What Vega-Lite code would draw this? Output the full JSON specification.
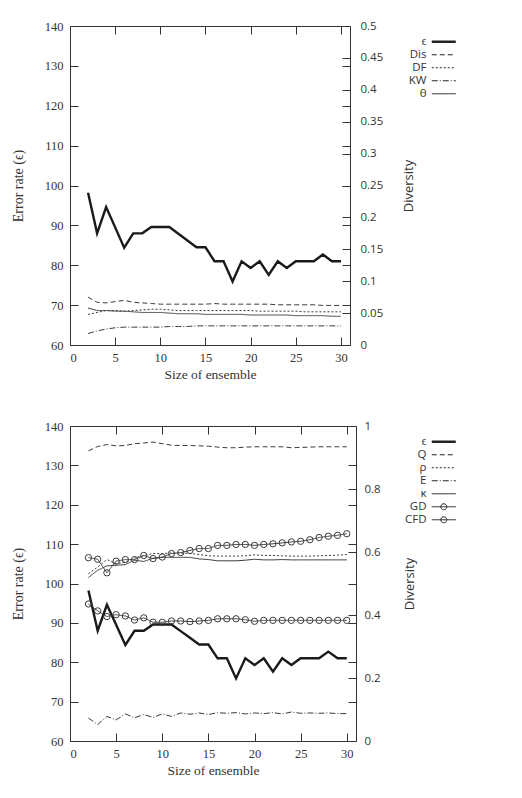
{
  "$schema": "https://vega.github.io/schema/vega-lite/v6.json",
  "padding": {"left": 10, "top": 19, "right": 5, "bottom": 5},
  "background": "white",
  "config": {
    "view": {"stroke": "#333", "strokeWidth": 1},
    "axis": {"domain": false, "grid": false, "tickColor": "#333", "labelColor": "#333", "titleColor": "#333", "titleFontWeight": "normal", "tickSize": -8}
  },
  "datasets": {
    "eps": [
      {"n":2,"v":98.2},{"n":3,"v":88},{"n":4,"v":94.6},{"n":5,"v":89.5},{"n":6,"v":84.4},{"n":7,"v":88},{"n":8,"v":88},{"n":9,"v":89.6},{"n":10,"v":89.6},{"n":11,"v":89.6},{"n":12,"v":87.9},{"n":13,"v":86.2},{"n":14,"v":84.5},{"n":15,"v":84.5},{"n":16,"v":81},{"n":17,"v":81},{"n":18,"v":75.9},{"n":19,"v":81},{"n":20,"v":79.3},{"n":21,"v":81},{"n":22,"v":77.6},{"n":23,"v":81},{"n":24,"v":79.3},{"n":25,"v":81},{"n":26,"v":81},{"n":27,"v":81},{"n":28,"v":82.7},{"n":29,"v":81},{"n":30,"v":81}
    ],
    "top": [
      {"s":"Dis","n":2,"v":0.075},{"s":"Dis","n":3,"v":0.067},{"s":"Dis","n":4,"v":0.066},{"s":"Dis","n":5,"v":0.068},{"s":"Dis","n":6,"v":0.07},{"s":"Dis","n":7,"v":0.067},{"s":"Dis","n":8,"v":0.066},{"s":"Dis","n":9,"v":0.065},{"s":"Dis","n":10,"v":0.064},{"s":"Dis","n":11,"v":0.064},{"s":"Dis","n":12,"v":0.064},{"s":"Dis","n":13,"v":0.064},{"s":"Dis","n":14,"v":0.064},{"s":"Dis","n":15,"v":0.064},{"s":"Dis","n":16,"v":0.065},{"s":"Dis","n":17,"v":0.064},{"s":"Dis","n":18,"v":0.064},{"s":"Dis","n":19,"v":0.064},{"s":"Dis","n":20,"v":0.064},{"s":"Dis","n":21,"v":0.064},{"s":"Dis","n":22,"v":0.064},{"s":"Dis","n":23,"v":0.063},{"s":"Dis","n":24,"v":0.063},{"s":"Dis","n":25,"v":0.063},{"s":"Dis","n":26,"v":0.063},{"s":"Dis","n":27,"v":0.063},{"s":"Dis","n":28,"v":0.062},{"s":"Dis","n":29,"v":0.062},{"s":"Dis","n":30,"v":0.062},
      {"s":"DF","n":2,"v":0.048},{"s":"DF","n":3,"v":0.051},{"s":"DF","n":4,"v":0.054},{"s":"DF","n":5,"v":0.054},{"s":"DF","n":6,"v":0.053},{"s":"DF","n":7,"v":0.054},{"s":"DF","n":8,"v":0.055},{"s":"DF","n":9,"v":0.056},{"s":"DF","n":10,"v":0.056},{"s":"DF","n":11,"v":0.055},{"s":"DF","n":12,"v":0.054},{"s":"DF","n":13,"v":0.054},{"s":"DF","n":14,"v":0.054},{"s":"DF","n":15,"v":0.054},{"s":"DF","n":16,"v":0.054},{"s":"DF","n":17,"v":0.054},{"s":"DF","n":18,"v":0.054},{"s":"DF","n":19,"v":0.054},{"s":"DF","n":20,"v":0.054},{"s":"DF","n":21,"v":0.053},{"s":"DF","n":22,"v":0.053},{"s":"DF","n":23,"v":0.053},{"s":"DF","n":24,"v":0.053},{"s":"DF","n":25,"v":0.053},{"s":"DF","n":26,"v":0.052},{"s":"DF","n":27,"v":0.052},{"s":"DF","n":28,"v":0.052},{"s":"DF","n":29,"v":0.052},{"s":"DF","n":30,"v":0.052},
      {"s":"KW","n":2,"v":0.018},{"s":"KW","n":3,"v":0.022},{"s":"KW","n":4,"v":0.025},{"s":"KW","n":5,"v":0.027},{"s":"KW","n":6,"v":0.028},{"s":"KW","n":7,"v":0.028},{"s":"KW","n":8,"v":0.028},{"s":"KW","n":9,"v":0.028},{"s":"KW","n":10,"v":0.028},{"s":"KW","n":11,"v":0.029},{"s":"KW","n":12,"v":0.029},{"s":"KW","n":13,"v":0.029},{"s":"KW","n":14,"v":0.03},{"s":"KW","n":15,"v":0.03},{"s":"KW","n":16,"v":0.03},{"s":"KW","n":17,"v":0.03},{"s":"KW","n":18,"v":0.03},{"s":"KW","n":19,"v":0.03},{"s":"KW","n":20,"v":0.03},{"s":"KW","n":21,"v":0.03},{"s":"KW","n":22,"v":0.03},{"s":"KW","n":23,"v":0.03},{"s":"KW","n":24,"v":0.03},{"s":"KW","n":25,"v":0.03},{"s":"KW","n":26,"v":0.03},{"s":"KW","n":27,"v":0.03},{"s":"KW","n":28,"v":0.03},{"s":"KW","n":29,"v":0.03},{"s":"KW","n":30,"v":0.03},
      {"s":"θ","n":2,"v":0.058},{"s":"θ","n":3,"v":0.054},{"s":"θ","n":4,"v":0.054},{"s":"θ","n":5,"v":0.053},{"s":"θ","n":6,"v":0.053},{"s":"θ","n":7,"v":0.052},{"s":"θ","n":8,"v":0.051},{"s":"θ","n":9,"v":0.051},{"s":"θ","n":10,"v":0.051},{"s":"θ","n":11,"v":0.05},{"s":"θ","n":12,"v":0.049},{"s":"θ","n":13,"v":0.049},{"s":"θ","n":14,"v":0.049},{"s":"θ","n":15,"v":0.048},{"s":"θ","n":16,"v":0.048},{"s":"θ","n":17,"v":0.048},{"s":"θ","n":18,"v":0.048},{"s":"θ","n":19,"v":0.048},{"s":"θ","n":20,"v":0.047},{"s":"θ","n":21,"v":0.047},{"s":"θ","n":22,"v":0.047},{"s":"θ","n":23,"v":0.047},{"s":"θ","n":24,"v":0.047},{"s":"θ","n":25,"v":0.046},{"s":"θ","n":26,"v":0.046},{"s":"θ","n":27,"v":0.046},{"s":"θ","n":28,"v":0.046},{"s":"θ","n":29,"v":0.045},{"s":"θ","n":30,"v":0.045}
    ],
    "bot": [
      {"s":"Q","n":2,"v":0.921},{"s":"Q","n":3,"v":0.935},{"s":"Q","n":4,"v":0.941},{"s":"Q","n":5,"v":0.937},{"s":"Q","n":6,"v":0.938},{"s":"Q","n":7,"v":0.944},{"s":"Q","n":8,"v":0.946},{"s":"Q","n":9,"v":0.949},{"s":"Q","n":10,"v":0.944},{"s":"Q","n":11,"v":0.939},{"s":"Q","n":12,"v":0.938},{"s":"Q","n":13,"v":0.938},{"s":"Q","n":14,"v":0.937},{"s":"Q","n":15,"v":0.936},{"s":"Q","n":16,"v":0.933},{"s":"Q","n":17,"v":0.931},{"s":"Q","n":18,"v":0.931},{"s":"Q","n":19,"v":0.933},{"s":"Q","n":20,"v":0.934},{"s":"Q","n":21,"v":0.934},{"s":"Q","n":22,"v":0.934},{"s":"Q","n":23,"v":0.934},{"s":"Q","n":24,"v":0.931},{"s":"Q","n":25,"v":0.932},{"s":"Q","n":26,"v":0.933},{"s":"Q","n":27,"v":0.934},{"s":"Q","n":28,"v":0.934},{"s":"Q","n":29,"v":0.934},{"s":"Q","n":30,"v":0.934},
      {"s":"ρ","n":2,"v":0.531},{"s":"ρ","n":3,"v":0.552},{"s":"ρ","n":4,"v":0.576},{"s":"ρ","n":5,"v":0.563},{"s":"ρ","n":6,"v":0.568},{"s":"ρ","n":7,"v":0.581},{"s":"ρ","n":8,"v":0.589},{"s":"ρ","n":9,"v":0.595},{"s":"ρ","n":10,"v":0.595},{"s":"ρ","n":11,"v":0.597},{"s":"ρ","n":12,"v":0.597},{"s":"ρ","n":13,"v":0.595},{"s":"ρ","n":14,"v":0.592},{"s":"ρ","n":15,"v":0.588},{"s":"ρ","n":16,"v":0.587},{"s":"ρ","n":17,"v":0.587},{"s":"ρ","n":18,"v":0.587},{"s":"ρ","n":19,"v":0.588},{"s":"ρ","n":20,"v":0.591},{"s":"ρ","n":21,"v":0.589},{"s":"ρ","n":22,"v":0.589},{"s":"ρ","n":23,"v":0.588},{"s":"ρ","n":24,"v":0.587},{"s":"ρ","n":25,"v":0.587},{"s":"ρ","n":26,"v":0.587},{"s":"ρ","n":27,"v":0.588},{"s":"ρ","n":28,"v":0.589},{"s":"ρ","n":29,"v":0.59},{"s":"ρ","n":30,"v":0.592},
      {"s":"E","n":2,"v":0.073},{"s":"E","n":3,"v":0.052},{"s":"E","n":4,"v":0.078},{"s":"E","n":5,"v":0.067},{"s":"E","n":6,"v":0.086},{"s":"E","n":7,"v":0.074},{"s":"E","n":8,"v":0.084},{"s":"E","n":9,"v":0.075},{"s":"E","n":10,"v":0.086},{"s":"E","n":11,"v":0.078},{"s":"E","n":12,"v":0.089},{"s":"E","n":13,"v":0.085},{"s":"E","n":14,"v":0.089},{"s":"E","n":15,"v":0.084},{"s":"E","n":16,"v":0.09},{"s":"E","n":17,"v":0.088},{"s":"E","n":18,"v":0.09},{"s":"E","n":19,"v":0.086},{"s":"E","n":20,"v":0.089},{"s":"E","n":21,"v":0.087},{"s":"E","n":22,"v":0.09},{"s":"E","n":23,"v":0.086},{"s":"E","n":24,"v":0.092},{"s":"E","n":25,"v":0.088},{"s":"E","n":26,"v":0.089},{"s":"E","n":27,"v":0.088},{"s":"E","n":28,"v":0.089},{"s":"E","n":29,"v":0.087},{"s":"E","n":30,"v":0.087},
      {"s":"κ","n":2,"v":0.519},{"s":"κ","n":3,"v":0.542},{"s":"κ","n":4,"v":0.556},{"s":"κ","n":5,"v":0.558},{"s":"κ","n":6,"v":0.56},{"s":"κ","n":7,"v":0.574},{"s":"κ","n":8,"v":0.57},{"s":"κ","n":9,"v":0.58},{"s":"κ","n":10,"v":0.583},{"s":"κ","n":11,"v":0.583},{"s":"κ","n":12,"v":0.583},{"s":"κ","n":13,"v":0.583},{"s":"κ","n":14,"v":0.578},{"s":"κ","n":15,"v":0.576},{"s":"κ","n":16,"v":0.572},{"s":"κ","n":17,"v":0.572},{"s":"κ","n":18,"v":0.572},{"s":"κ","n":19,"v":0.574},{"s":"κ","n":20,"v":0.577},{"s":"κ","n":21,"v":0.575},{"s":"κ","n":22,"v":0.575},{"s":"κ","n":23,"v":0.576},{"s":"κ","n":24,"v":0.575},{"s":"κ","n":25,"v":0.575},{"s":"κ","n":26,"v":0.575},{"s":"κ","n":27,"v":0.575},{"s":"κ","n":28,"v":0.575},{"s":"κ","n":29,"v":0.575},{"s":"κ","n":30,"v":0.575},
      {"s":"GD","n":2,"v":0.435},{"s":"GD","n":3,"v":0.413},{"s":"GD","n":4,"v":0.395},{"s":"GD","n":5,"v":0.401},{"s":"GD","n":6,"v":0.397},{"s":"GD","n":7,"v":0.384},{"s":"GD","n":8,"v":0.391},{"s":"GD","n":9,"v":0.377},{"s":"GD","n":10,"v":0.377},{"s":"GD","n":11,"v":0.381},{"s":"GD","n":12,"v":0.381},{"s":"GD","n":13,"v":0.379},{"s":"GD","n":14,"v":0.381},{"s":"GD","n":15,"v":0.383},{"s":"GD","n":16,"v":0.388},{"s":"GD","n":17,"v":0.388},{"s":"GD","n":18,"v":0.388},{"s":"GD","n":19,"v":0.385},{"s":"GD","n":20,"v":0.38},{"s":"GD","n":21,"v":0.383},{"s":"GD","n":22,"v":0.383},{"s":"GD","n":23,"v":0.383},{"s":"GD","n":24,"v":0.383},{"s":"GD","n":25,"v":0.383},{"s":"GD","n":26,"v":0.383},{"s":"GD","n":27,"v":0.383},{"s":"GD","n":28,"v":0.383},{"s":"GD","n":29,"v":0.383},{"s":"GD","n":30,"v":0.383},
      {"s":"CFD","n":2,"v":0.582},{"s":"CFD","n":3,"v":0.577},{"s":"CFD","n":4,"v":0.534},{"s":"CFD","n":5,"v":0.571},{"s":"CFD","n":6,"v":0.576},{"s":"CFD","n":7,"v":0.576},{"s":"CFD","n":8,"v":0.589},{"s":"CFD","n":9,"v":0.579},{"s":"CFD","n":10,"v":0.584},{"s":"CFD","n":11,"v":0.595},{"s":"CFD","n":12,"v":0.598},{"s":"CFD","n":13,"v":0.605},{"s":"CFD","n":14,"v":0.611},{"s":"CFD","n":15,"v":0.611},{"s":"CFD","n":16,"v":0.621},{"s":"CFD","n":17,"v":0.621},{"s":"CFD","n":18,"v":0.624},{"s":"CFD","n":19,"v":0.624},{"s":"CFD","n":20,"v":0.621},{"s":"CFD","n":21,"v":0.624},{"s":"CFD","n":22,"v":0.626},{"s":"CFD","n":23,"v":0.629},{"s":"CFD","n":24,"v":0.632},{"s":"CFD","n":25,"v":0.634},{"s":"CFD","n":26,"v":0.639},{"s":"CFD","n":27,"v":0.646},{"s":"CFD","n":28,"v":0.65},{"s":"CFD","n":29,"v":0.653},{"s":"CFD","n":30,"v":0.658}
    ]
  },
  "spacing": 37,
  "resolve": {"scale": {"strokeDash": "independent"}, "legend": {"strokeDash": "independent"}},
  "vconcat": [
    {
      "width": 280, "height": 319,
      "layer": [
        {
          "data": {"name": "eps"},
          "layer": [
            {
              "mark": {"type": "line", "color": "#1a1a1a", "strokeWidth": 2.4},
              "encoding": {
                "x": {"field": "n", "type": "quantitative", "scale": {"domain": [0, 31], "nice": false},
                  "axis": {"orient": "bottom", "values": [0,5,10,15,20,25,30], "title": "Size of ensemble", "labelFont": "Liberation Serif", "labelFontSize": 12.5, "titleFont": "Liberation Serif", "titleFontSize": 13.5, "labelPadding": 14, "titlePadding": 4}},
                "y": {"field": "v", "type": "quantitative", "scale": {"domain": [60, 140], "nice": false},
                  "axis": {"orient": "left", "values": [60,70,80,90,100,110,120,130,140], "title": "Error rate (ϵ)", "labelFont": "Liberation Serif", "labelFontSize": 12.5, "titleFont": "Liberation Serif", "titleFontSize": 14, "labelPadding": 15, "titlePadding": 19}}
              }
            },
            {
              "mark": {"type": "line", "opacity": 0},
              "encoding": {
                "x": {"field": "n", "type": "quantitative", "axis": {"orient": "top", "values": [5,10,15,20,25,30], "labels": false, "title": null}},
                "y": {"field": "v", "type": "quantitative", "axis": {"orient": "right", "values": [70,80,90,100,110,120,130], "labels": false, "title": null}}
              }
            }
          ],
          "resolve": {"axis": {"x": "independent", "y": "independent"}}
        },
        {
          "data": {"name": "top"},
          "mark": {"type": "line", "color": "#3a3a3a", "strokeWidth": 1},
          "encoding": {
            "x": {"field": "n", "type": "quantitative", "axis": null},
            "y": {"field": "v", "type": "quantitative", "scale": {"domain": [0, 0.5], "nice": false},
              "axis": {"orient": "right", "values": [0,0.05,0.1,0.15,0.2,0.25,0.3,0.35,0.4,0.45,0.5], "format": "~g", "title": "Diversity", "labelFont": "Open Sans", "labelFontSize": 11.5, "titleFont": "Open Sans", "titleFontSize": 13, "labelPadding": 18, "titlePadding": 20, "titleAngle": 270, "titleBaseline": "top"}},
            "strokeDash": {"field": "s", "type": "nominal",
              "scale": {"domain": ["ϵ","Dis","DF","KW","θ"], "range": [[1,0],[5,3],[2,2],[6,2,1,2],[1,0]]},
              "legend": {"orient": "none", "legendX": 368, "legendY": 10, "title": null, "padding": 0, "symbolSize": 144, "symbolStrokeColor": "#222", "symbolStrokeWidth": 1, "labelAlign": "right", "labelOffset": -23, "labelFont": "Open Sans", "labelFontSize": 11.5, "labelColor": "#333", "rowPadding": 0,
                "encode": {"symbols": {"update": {"shape": {"value": "M-2,0H2"}, "strokeWidth": {"signal": "datum.value === 'ϵ' ? 2.6 : 1"}}}}}}
          }
        }
      ],
      "resolve": {"scale": {"y": "independent"}, "axis": {"x": "independent", "y": "independent"}}
    },
    {
      "width": 286, "height": 315,
      "layer": [
        {
          "data": {"name": "eps"},
          "layer": [
            {
              "mark": {"type": "line", "color": "#1a1a1a", "strokeWidth": 2.4},
              "encoding": {
                "x": {"field": "n", "type": "quantitative", "scale": {"domain": [0, 31], "nice": false},
                  "axis": {"orient": "bottom", "values": [0,5,10,15,20,25,30], "title": "Size of ensemble", "labelFont": "Liberation Serif", "labelFontSize": 12.5, "titleFont": "Liberation Serif", "titleFontSize": 13.5, "labelPadding": 14, "titlePadding": 4}},
                "y": {"field": "v", "type": "quantitative", "scale": {"domain": [60, 140], "nice": false},
                  "axis": {"orient": "left", "values": [60,70,80,90,100,110,120,130,140], "title": "Error rate (ϵ)", "labelFont": "Liberation Serif", "labelFontSize": 12.5, "titleFont": "Liberation Serif", "titleFontSize": 14, "labelPadding": 15, "titlePadding": 19}}
              }
            },
            {
              "mark": {"type": "line", "opacity": 0},
              "encoding": {
                "x": {"field": "n", "type": "quantitative", "axis": {"orient": "top", "values": [5,10,15,20,25,30], "labels": false, "title": null}},
                "y": {"field": "v", "type": "quantitative", "axis": {"orient": "right", "values": [70,80,90,100,110,120,130], "labels": false, "title": null}}
              }
            }
          ],
          "resolve": {"axis": {"x": "independent", "y": "independent"}}
        },
        {
          "data": {"name": "bot"},
          "encoding": {
            "x": {"field": "n", "type": "quantitative", "axis": null},
            "y": {"field": "v", "type": "quantitative", "scale": {"domain": [0, 1], "nice": false},
              "axis": {"orient": "right", "values": [0,0.2,0.4,0.6,0.8,1], "format": "~g", "title": "Diversity", "labelFont": "Open Sans", "labelFontSize": 11.5, "titleFont": "Open Sans", "titleFontSize": 13, "labelPadding": 16, "titlePadding": 23, "titleAngle": 270, "titleBaseline": "top"}}
          },
          "layer": [
            {
              "mark": {"type": "line", "color": "#3a3a3a", "strokeWidth": 1},
              "encoding": {
                "strokeDash": {"field": "s", "type": "nominal",
                  "scale": {"domain": ["ϵ","Q","ρ","E","κ","GD","CFD"], "range": [[1,0],[5,3],[2,2],[6,2,1,2],[1,0],[1,0],[1,0]]},
                  "legend": {"orient": "none", "legendX": 368, "legendY": 10, "title": null, "padding": 0, "symbolSize": 144, "symbolStrokeColor": "#222", "symbolStrokeWidth": 1, "labelAlign": "right", "labelOffset": -23, "labelFont": "Open Sans", "labelFontSize": 11.5, "labelColor": "#333", "rowPadding": 0,
                    "encode": {"symbols": {"update": {"shape": {"signal": "datum.value === 'GD' || datum.value === 'CFD' ? 'M-2,0H2M0.5,0A0.5,0.5,0,1,1,-0.5,0A0.5,0.5,0,1,1,0.5,0' : 'M-2,0H2'"}, "strokeWidth": {"signal": "datum.value === 'ϵ' ? 2.6 : 1"}}}}}}
              }
            },
            {
              "transform": [{"filter": "datum.s === 'GD' || datum.s === 'CFD'"}],
              "mark": {"type": "point", "shape": "circle", "size": 40, "filled": false, "stroke": "#3a3a3a", "strokeWidth": 1, "opacity": 1}
            }
          ]
        }
      ],
      "resolve": {"scale": {"y": "independent"}, "axis": {"x": "independent", "y": "independent"}}
    }
  ]
}
